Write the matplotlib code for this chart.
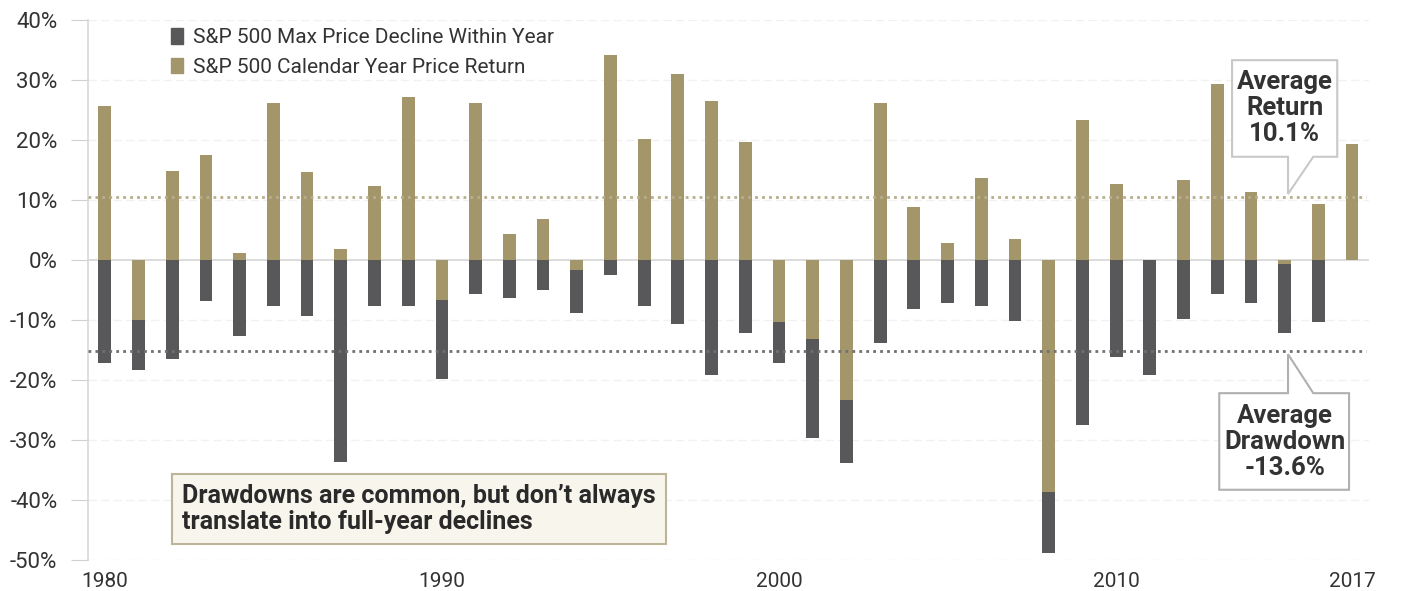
import matplotlib
matplotlib.use('Agg')
import matplotlib.pyplot as plt
import numpy as np
from matplotlib.patches import Polygon, Patch

# данные
years = list(range(1980, 2018))
returns = [25.6, -10.0, 14.9, 17.5, 1.2, 26.2, 14.6, 1.9, 12.4, 27.2,
           -6.7, 26.2, 4.4, 6.9, -1.7, 34.2, 20.2, 31.0, 26.5, 19.6,
           -10.3, -13.2, -23.3, 26.2, 8.9, 2.9, 13.6, 3.5, -38.7, 23.3,
           12.7, 0.0, 13.3, 29.4, 11.4, -0.6, 9.4, 19.3]
declines = [-17.1, -18.3, -16.5, -6.9, -12.6, -7.6, -9.4, -33.6, -7.6, -7.6,
            -19.9, -5.7, -6.3, -5.0, -8.9, -2.5, -7.6, -10.7, -19.2, -12.1,
            -17.1, -29.7, -33.9, -13.9, -8.2, -7.2, -7.6, -10.1, -48.9, -27.5,
            -16.1, -19.2, -9.8, -5.7, -7.2, -12.2, -10.4, 0.0]
avg_return_line = 10.5
avg_drawdown_line = -15.2
xtick_years = [1980, 1990, 2000, 2010, 2017]
yticks = list(range(-50, 41, 10))

dark = '#58585a'
tan = '#a3966a'
plt.rcParams['font.family'] = ['Roboto', 'DejaVu Sans']

fig = plt.figure(figsize=(14.01, 5.91), dpi=100)
ax = fig.add_axes([0.0628, 0.0525, 0.9143, 0.9137])

for y in yticks:
    if y != 0:
        ax.axhline(y, color='#f1f1f1', lw=1, ls=(0, (6, 3)), zorder=0)
ax.axhline(0, color='#d5d5d5', lw=1.2, zorder=1)

ax.bar(years, declines, width=0.38, color=dark, zorder=2)
ax.bar(years, returns, width=0.38, color=tan, zorder=3)

ax.plot([1979.5, 2017.4], [avg_return_line] * 2, ls=(0, (1, 1.5)),
        color='#b8ae8c', lw=2, zorder=4)
ax.plot([1979.5, 2017.4], [avg_drawdown_line] * 2, ls=(0, (1, 1.5)),
        color='#707070', lw=2, zorder=4)

ax.set_xlim(1979.5, 2017.5)
ax.set_ylim(-50, 40)
ax.set_yticks(yticks)
ax.set_yticklabels([f'{y}%' for y in yticks])
ax.set_xticks(xtick_years)
ax.set_xticklabels([str(y) for y in xtick_years])
ax.tick_params(axis='y', length=12, color='#d0d0d0', labelsize=16,
               labelcolor='#333333', pad=10)
ax.tick_params(axis='x', length=0, labelsize=15, labelcolor='#333333', pad=9)
for s in ['top', 'right', 'bottom']:
    ax.spines[s].set_visible(False)
ax.spines['left'].set_color('#d8d8d8')
ax.spines['left'].set_linewidth(1.2)

handles = [Patch(color=dark), Patch(color=tan)]
labels = ['S&P 500 Max Price Decline Within Year',
          'S&P 500 Calendar Year Price Return']
ax.legend(handles, labels, loc='upper left', bbox_to_anchor=(0.05, 1.02),
          frameon=False, handlelength=0.6, handleheight=0.8, handletextpad=0.45,
          fontsize=15, labelcolor='#333333', labelspacing=0.5)

# выноски
ret_box = [(2013.44, 33.3), (2016.56, 33.3), (2016.56, 17.2), (2015.85, 17.2),
           (2015.10, avg_return_line + 0.5), (2015.10, 17.2), (2013.44, 17.2)]
ax.add_patch(Polygon(ret_box, closed=True, fc='white', ec='#c8c8c8', lw=1.5, zorder=5))
ax.text(2015.0, 25.3, 'Average\nReturn\n10.1%', ha='center', va='center',
        fontsize=18.5, fontweight='bold', color='#333333', linespacing=1.1, zorder=6)

dd_box = [(2013.06, -22.2), (2015.10, -22.2), (2015.10, avg_drawdown_line - 0.5),
          (2015.85, -22.2), (2016.91, -22.2), (2016.91, -38.3), (2013.06, -38.3)]
ax.add_patch(Polygon(dd_box, closed=True, fc='white', ec='#b0b0b0', lw=1.5, zorder=5))
ax.text(2015.0, -30.3, 'Average\nDrawdown\n-13.6%', ha='center', va='center',
        fontsize=18.5, fontweight='bold', color='#333333', linespacing=1.1, zorder=6)

ax.text(1982.3, -41.5, 'Drawdowns are common, but don\u2019t always\ntranslate into full-year declines',
        ha='left', va='center', fontsize=18, fontweight='bold', color='#2a2a2a',
        linespacing=1.15, zorder=6,
        bbox=dict(boxstyle='square,pad=0.4', fc='#f8f5ec', ec='#bdb59a', lw=1.5))

fig.savefig('out.png', dpi=100)
